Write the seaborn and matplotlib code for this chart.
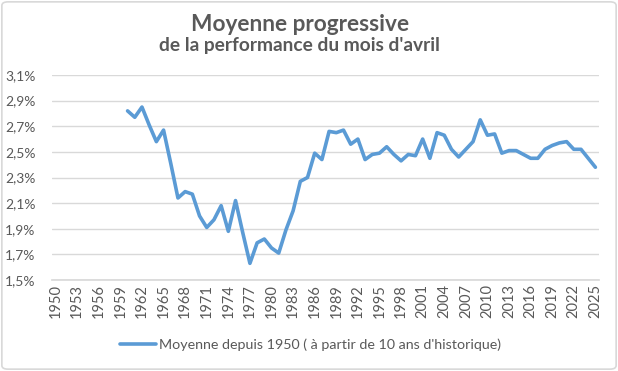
import numpy as np
import pandas as pd
import seaborn as sns
import matplotlib.pyplot as plt
from matplotlib.patches import FancyBboxPatch

# Years on the category axis
years = list(range(1950, 2026))

# Rolling mean (%), starting once 10 years of history exist (1960)
avg_years = list(range(1960, 2026))
avg_values = [
    2.82, 2.77, 2.85, 2.71, 2.58, 2.67, 2.41, 2.14, 2.19, 2.17,  # 1960-1969
    2.00, 1.91, 1.97, 2.08, 1.88, 2.12, 1.87, 1.63, 1.79, 1.82,  # 1970-1979
    1.75, 1.71, 1.89, 2.04, 2.27, 2.30, 2.49, 2.44, 2.66, 2.65,  # 1980-1989
    2.67, 2.56, 2.60, 2.44, 2.48, 2.49, 2.54, 2.48, 2.43, 2.48,  # 1990-1999
    2.47, 2.60, 2.45, 2.65, 2.63, 2.52, 2.46, 2.52, 2.58, 2.75,  # 2000-2009
    2.63, 2.64, 2.49, 2.51, 2.51, 2.48, 2.45, 2.45, 2.52, 2.55,  # 2010-2019
    2.57, 2.58, 2.52, 2.52, 2.45, 2.38,                          # 2020-2025
]

y_ticks = [1.5, 1.7, 1.9, 2.1, 2.3, 2.5, 2.7, 2.9, 3.1]
x_tick_years = list(range(1950, 2026, 3))

legend_label = "Moyenne depuis 1950 ( à partir de 10 ans d'historique)"
title = "Moyenne progressive"
subtitle = "de la performance du mois d'avril"

sns.set_theme(style="white")
plt.rcParams['font.family'] = ['Lato', 'DejaVu Sans']

df = pd.DataFrame({"pos": [y - 1950 for y in avg_years], "value": avg_values})

fig = plt.figure(figsize=(6.18, 3.71), dpi=100)
ax = fig.add_axes([52 / 618, 1 - 280 / 371, 547 / 618, 205 / 371])

# grey frame around the figure
fig.patches.append(FancyBboxPatch((0.003, 0.005), 0.994, 0.99, boxstyle="round,pad=0,rounding_size=0.01",
                                  transform=fig.transFigure, fill=False, edgecolor="#d9d9d9", linewidth=1.2))

sns.lineplot(data=df, x="pos", y="value", ax=ax, color="#5b9bd5", linewidth=2.6,
             label=legend_label, legend=False)

ax.set_xlim(-0.5, len(years) - 0.5)
ax.set_ylim(1.5, 3.1)
ax.set_yticks(y_ticks)
ax.set_yticklabels([f"{v:.1f}%".replace(".", ",") for v in y_ticks], color="#595959", fontsize=10)
ax.set_xticks([y - 1950 for y in x_tick_years])
ax.set_xticklabels([str(y) for y in x_tick_years], rotation=90, color="#595959", fontsize=10.5)
ax.tick_params(axis="both", length=0, pad=3)
ax.tick_params(axis="y", pad=12)
ax.yaxis.grid(True, color="#d9d9d9", linewidth=1)
ax.set_axisbelow(True)
for s in ["top", "right", "left"]:
    ax.spines[s].set_visible(False)
ax.spines["bottom"].set_color("#d9d9d9")
ax.set_xlabel("")
ax.set_ylabel("")

fig.text(0.485, 0.935, title, ha="center", va="center", fontsize=16.3, fontweight="bold", color="#595959")
fig.text(0.485, 0.878, subtitle, ha="center", va="center", fontsize=13.8, fontweight="bold", color="#595959")

handles, labels = ax.get_legend_handles_labels()
fig.legend(handles, labels, loc="center", bbox_to_anchor=(0.502, 0.072), frameon=False,
           fontsize=10.3, labelcolor="#595959", handlelength=2.5, handletextpad=0.2)

fig.savefig("out.png", dpi=100)
